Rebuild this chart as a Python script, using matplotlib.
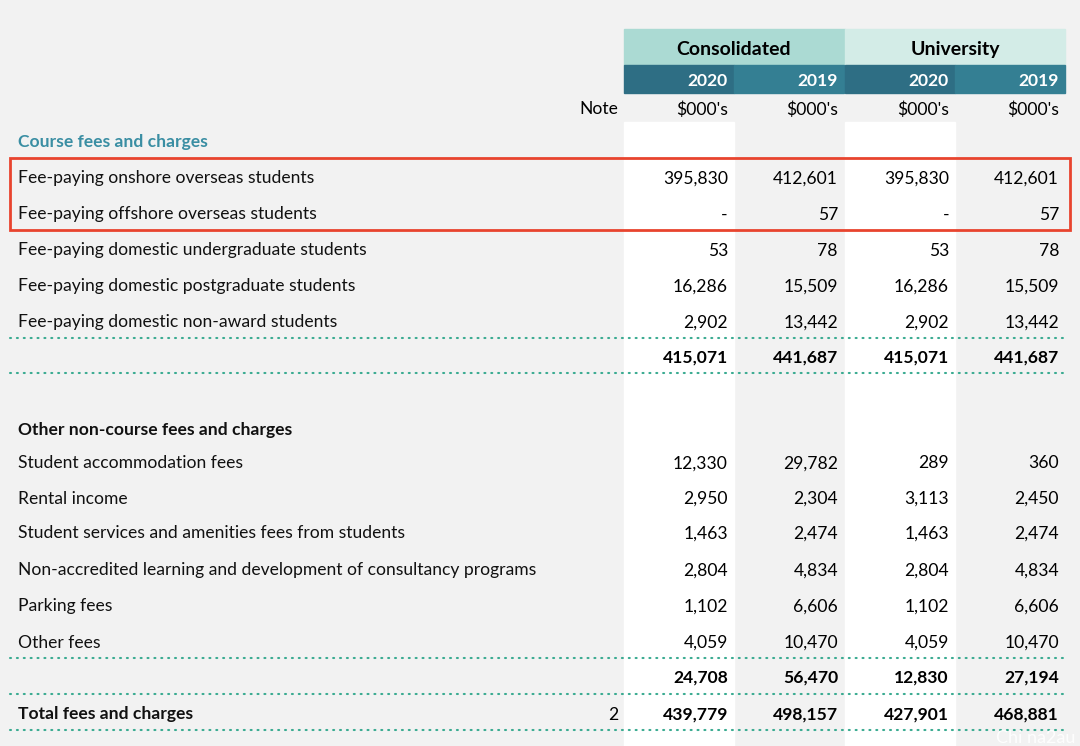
import matplotlib.pyplot as plt
from matplotlib.patches import Rectangle

# 表格数据
columns = ["2020", "2019", "2020", "2019"]
groups = ["Consolidated", "University"]

course_labels = [
    "Fee-paying onshore overseas students",
    "Fee-paying offshore overseas students",
    "Fee-paying domestic undergraduate students",
    "Fee-paying domestic postgraduate students",
    "Fee-paying domestic non-award students",
]
course_values = [
    ["395,830", "412,601", "395,830", "412,601"],
    ["-", "57", "-", "57"],
    ["53", "78", "53", "78"],
    ["16,286", "15,509", "16,286", "15,509"],
    ["2,902", "13,442", "2,902", "13,442"],
]
course_total = ["415,071", "441,687", "415,071", "441,687"]

other_labels = [
    "Student accommodation fees",
    "Rental income",
    "Student services and amenities fees from students",
    "Non-accredited learning and development of consultancy programs",
    "Parking fees",
    "Other fees",
]
other_values = [
    ["12,330", "29,782", "289", "360"],
    ["2,950", "2,304", "3,113", "2,450"],
    ["1,463", "2,474", "1,463", "2,474"],
    ["2,804", "4,834", "2,804", "4,834"],
    ["1,102", "6,606", "1,102", "6,606"],
    ["4,059", "10,470", "4,059", "10,470"],
]
other_total = ["24,708", "56,470", "12,830", "27,194"]
grand_total = ["439,779", "498,157", "427,901", "468,881"]

plt.rcParams["font.family"] = ["Lato", "DejaVu Sans"]

fig = plt.figure(figsize=(10.8, 7.46), dpi=100)
fig.patch.set_facecolor("#f2f2f2")
ax = fig.add_axes([0, 0, 1, 1])
ax.set_xlim(0, 1080)
ax.set_ylim(746, 0)
ax.axis("off")

col_left = [624, 734, 845, 955]
col_right = [728, 838, 949, 1059]
fs = 12.6
dy = 1.5  # 文字垂直微调
teal = "#3a8ea3"
dot_color = "#3aab91"

# 白色竖条（2020列）
for i in (0, 2):
    ax.add_patch(Rectangle((col_left[i], 122), 110, 630, color="white", zorder=0))

# 表头
ax.add_patch(Rectangle((624, 29), 221, 36, color="#abdad3"))
ax.add_patch(Rectangle((845, 29), 220, 36, color="#d3ece7"))
ax.text(734, 48 + dy, groups[0], ha="center", va="center", fontsize=14, fontweight="bold")
ax.text(955, 48 + dy, groups[1], ha="center", va="center", fontsize=14, fontweight="bold")
year_colors = ["#2e6e84", "#347f93", "#2e6e84", "#347f93"]
for i, yr in enumerate(columns):
    ax.add_patch(Rectangle((col_left[i], 65), 110, 28, color=year_colors[i]))
    ax.text(col_right[i], 80 + dy, yr, ha="right", va="center", fontsize=fs,
            fontweight="bold", color="white")
ax.text(618, 108 + dy, "Note", ha="right", va="center", fontsize=fs)
for i in range(4):
    ax.text(col_right[i], 108 + dy, "$000's", ha="right", va="center", fontsize=fs)


def row(y, label, vals, bold=False, note=None, color="#111111"):
    fw = "bold" if bold else "normal"
    y = y + dy
    if label:
        ax.text(18, y, label, ha="left", va="center", fontsize=fs, fontweight=fw, color=color)
    if note:
        ax.text(618, y, note, ha="right", va="center", fontsize=fs)
    if vals:
        for i, v in enumerate(vals):
            ax.text(col_right[i], y, v, ha="right", va="center", fontsize=fs, fontweight=fw)


def dots(y):
    ax.plot([10, 1065], [y, y], color=dot_color, lw=1.5, linestyle=(0, (0.5, 2.8)),
            dash_capstyle="round")


row(141, "Course fees and charges", None, bold=True, color=teal)
course_y = [177, 213, 249, 285, 321]
for y, lab, vals in zip(course_y, course_labels, course_values):
    row(y, lab, vals)
dots(338)
row(356, None, course_total, bold=True)
dots(373)

row(428, "Other non-course fees and charges", None, bold=True)
other_y = [462, 497, 532, 569, 605, 641]
for y, lab, vals in zip(other_y, other_labels, other_values):
    row(y, lab, vals)
dots(658)
row(676, None, other_total, bold=True)
dots(694)
row(713, "Total fees and charges", grand_total, bold=True, note="2")
dots(730)

# 红框
ax.add_patch(Rectangle((10, 158), 1060, 72, fill=False, edgecolor="#e8442e", lw=2))

# 水印
ax.text(1075, 738, "Chi na2au", ha="right", va="center", fontsize=13, color="white", alpha=0.9)

fig.savefig("out.png", dpi=100, facecolor=fig.get_facecolor())
